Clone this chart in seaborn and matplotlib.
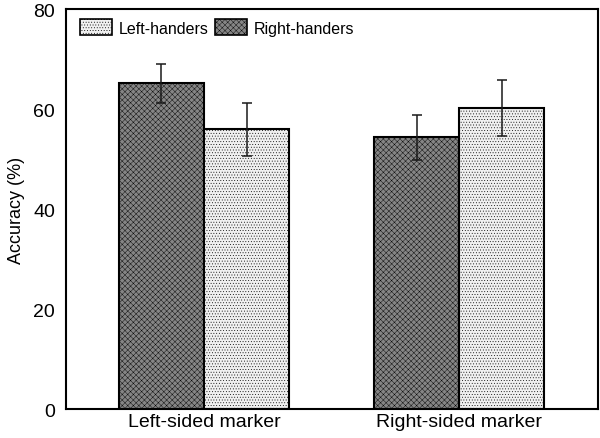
import numpy as np
import pandas as pd
import matplotlib
matplotlib.use("Agg")
import matplotlib.pyplot as plt
import seaborn as sns
from matplotlib.patches import Patch

conditions = ["Left-sided marker", "Right-sided marker"]
groups = ["Right-handers", "Left-handers"]
right_acc = [65.2, 54.4]
left_acc = [56.0, 60.2]
right_err = [3.9, 4.5]
left_err = [5.3, 5.6]

df = pd.DataFrame({
    "condition": conditions * 2,
    "group": [groups[0]] * 2 + [groups[1]] * 2,
    "accuracy": right_acc + left_acc,
})
errs = right_err + left_err

sns.set_style("white")
plt.rcParams["font.family"] = ["Liberation Sans", "DejaVu Sans"]
plt.rcParams["hatch.linewidth"] = 0.3
plt.rcParams["text.color"] = "black"
plt.rcParams["axes.labelcolor"] = "black"
plt.rcParams["xtick.color"] = "black"
plt.rcParams["ytick.color"] = "black"

fig = plt.figure(figsize=(6, 4.39), dpi=100)
ax = fig.add_axes([0.11, 0.066, 0.887, 0.911])

face = {"Right-handers": "#858585", "Left-handers": "#f0f0f0"}
hatch = {"Right-handers": "xxxxxx", "Left-handers": "......"}

sns.barplot(data=df, x="condition", y="accuracy", hue="group",
            order=conditions, hue_order=groups, palette=face,
            errorbar=None, width=0.667, gap=0, ax=ax, legend=False)

bars = ax.patches[:4]
for i, bar in enumerate(bars):
    g = groups[i // 2]
    bar.set_edgecolor("black")
    bar.set_linewidth(1.5)
    bar.set_hatch(hatch[g])
    bar.set_facecolor(face[g])
    cx = bar.get_x() + bar.get_width() / 2
    ax.errorbar(cx, bar.get_height(), yerr=errs[i], color="#1a1a1a",
                capsize=3.5, elinewidth=1.1, capthick=1.1, fmt="none")

ax.set_ylim(0, 80)
ax.set_xlim(-0.541, 1.545)
ax.set_yticks([0, 20, 40, 60, 80])
ax.tick_params(axis="y", direction="in", length=4, width=1.2, labelsize=14, pad=8)
ax.tick_params(axis="x", length=0, labelsize=14, pad=3)
ax.set_xlabel("")
ax.set_ylabel("Accuracy (%)", fontsize=13, labelpad=6)
for s in ax.spines.values():
    s.set_visible(True)
    s.set_linewidth(1.5)
    s.set_color("black")

handles = [
    Patch(facecolor=face["Left-handers"], edgecolor="black", hatch=hatch["Left-handers"],
          linewidth=1.2, label="Left-handers"),
    Patch(facecolor=face["Right-handers"], edgecolor="black", hatch=hatch["Right-handers"],
          linewidth=1.2, label="Right-handers"),
]
ax.legend(handles=handles, loc="upper left", ncol=2, frameon=False, fontsize=11.5,
          handlelength=2.0, handleheight=1.1, handletextpad=0.4, columnspacing=0.4,
          bbox_to_anchor=(0.0, 1.01), borderaxespad=0.5)

fig.savefig("out.png", dpi=100)
